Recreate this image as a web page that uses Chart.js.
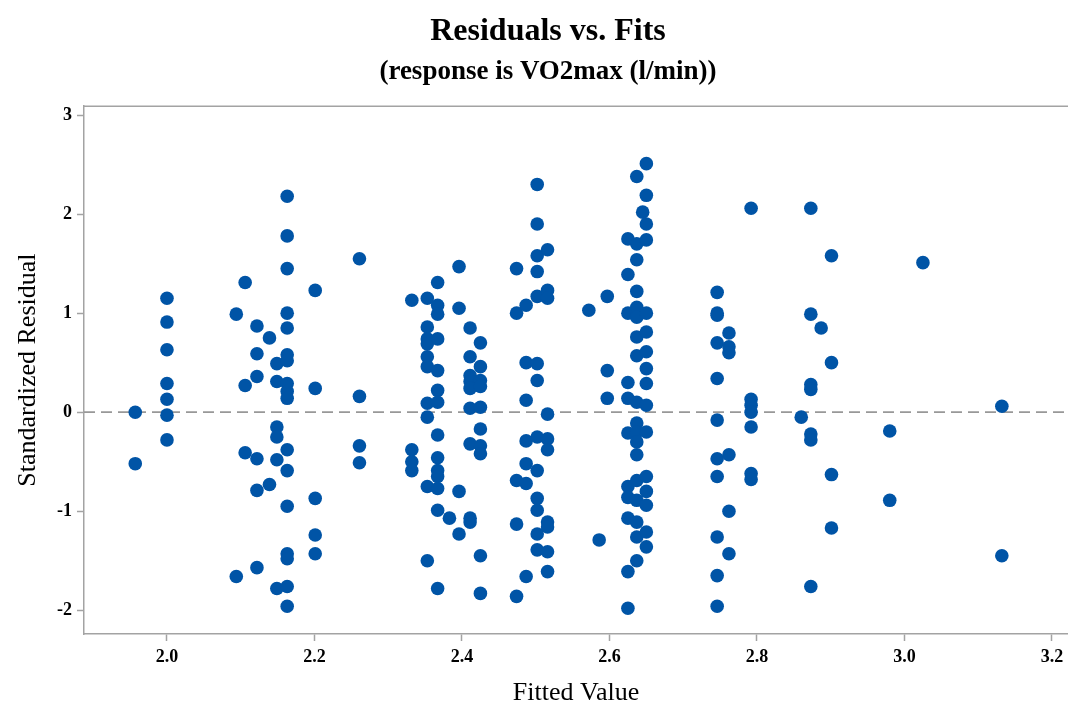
<!DOCTYPE html>
<html>
<head>
<meta charset="utf-8">
<title>Residuals vs. Fits</title>
<script src="https://cdn.jsdelivr.net/npm/chart.js@4.4.1/dist/chart.umd.min.js"></script>
<style>
  html, body { margin: 0; padding: 0; background: #ffffff; overflow: hidden; }
  #wrap { width: 1068px; height: 709px; position: relative; }
</style>
</head>
<body>
<div id="wrap"><canvas id="chart"></canvas></div>
<script>
// Fitted values (one entry per vertical group of observations)
const fitLevels = [
  1.957, 2.000, 2.094, 2.106, 2.122, 2.139, 2.149, 2.163, 2.201, 2.261,
  2.332, 2.353, 2.367, 2.383, 2.396, 2.411, 2.425, 2.474, 2.487, 2.502,
  2.516, 2.572, 2.586, 2.597, 2.625, 2.637, 2.645, 2.650, 2.746, 2.762,
  2.792, 2.860, 2.873, 2.887, 2.901, 2.980, 3.025, 3.132
];

// Standardized residuals observed at each fitted value above
const residualGroups = [
  [0.00, -0.52],
  [1.15, 0.91, 0.63, 0.29, 0.13, -0.03, -0.28],
  [0.99, -1.66],
  [1.31, 0.27, -0.41],
  [0.87, 0.59, 0.36, -0.47, -0.79, -1.57],
  [0.75, -0.73],
  [0.49, 0.31, -0.15, -0.25, -0.48, -1.78],
  [2.18, 1.78, 1.45, 1.00, 0.85, 0.58, 0.52, 0.29, 0.21, 0.14, -0.38, -0.59, -0.95, -1.43, -1.48, -1.76, -1.96],
  [1.23, 0.24, -0.87, -1.24, -1.43],
  [1.55, 0.16, -0.34, -0.51],
  [1.13, -0.38, -0.50, -0.59],
  [1.15, 0.86, 0.74, 0.69, 0.56, 0.46, 0.09, -0.05, -0.75, -1.50],
  [1.31, 1.08, 0.99, 0.74, 0.42, 0.22, 0.10, -0.23, -0.46, -0.59, -0.65, -0.77, -0.99, -1.78],
  [-1.07],
  [1.47, 1.05, -0.80, -1.23],
  [0.85, 0.56, 0.37, 0.31, 0.24, 0.04, -0.32, -1.07, -1.11],
  [0.70, 0.46, 0.32, 0.26, 0.05, -0.17, -0.34, -0.42, -1.45, -1.83],
  [1.45, 1.00, -0.69, -1.13, -1.86],
  [1.08, 0.50, 0.12, -0.29, -0.52, -0.72, -1.66],
  [2.30, 1.90, 1.58, 1.42, 1.17, 0.49, 0.32, -0.25, -0.59, -0.87, -0.99, -1.23, -1.39],
  [1.64, 1.23, 1.15, -0.02, -0.27, -0.38, -1.11, -1.16, -1.41, -1.61],
  [1.03],
  [-1.29],
  [1.17, 0.42, 0.14],
  [1.75, 1.39, 1.00, 0.30, 0.14, -0.21, -0.75, -0.86, -1.07, -1.61, -1.98],
  [2.38, 1.70, 1.54, 1.22, 1.06, 0.96, 0.76, 0.57, 0.10, -0.11, -0.20, -0.30, -0.43, -0.69, -0.89, -1.11, -1.26, -1.50],
  [2.02],
  [2.51, 2.19, 1.90, 1.74, 1.00, 0.81, 0.61, 0.44, 0.29, 0.07, -0.20, -0.65, -0.80, -0.94, -1.21, -1.36],
  [1.21, 1.00, 0.98, 0.70, 0.34, -0.08, -0.47, -0.65, -1.26, -1.65, -1.96],
  [0.80, 0.66, 0.60, -0.43, -1.00, -1.43],
  [2.06, 0.13, 0.07, 0.00, -0.15, -0.62, -0.68],
  [-0.05],
  [2.06, 0.99, 0.28, 0.23, -0.22, -0.28, -1.76],
  [0.85],
  [1.58, 0.50, -0.63, -1.17],
  [-0.19, -0.89],
  [1.51],
  [0.06, -1.45]
];

// Axis tick labels and ranges
const xTickValues = [2.0, 2.2, 2.4, 2.6, 2.8, 3.0, 3.2];
const yTickValues = [-2, -1, 0, 1, 2, 3];
const xRange = [1.8875, 3.2217];
const yRange = [-2.24, 3.09];
const referenceResidual = 0;

const points = [];
fitLevels.forEach((fit, i) => {
  residualGroups[i].forEach(r => points.push({ x: fit, y: r }));
});

const SERIF = '"Liberation Serif", "Times New Roman", Times, serif';
const AXIS_GRAY = '#a3a3a3';
const DOT_BLUE = '#0054a6';

// Top edge of the plotting frame
const frameTop = {
  id: 'frameTop',
  beforeDatasetsDraw(chart) {
    const { ctx, chartArea } = chart;
    ctx.save();
    ctx.strokeStyle = AXIS_GRAY;
    ctx.lineWidth = 1.5;
    ctx.beginPath();
    ctx.moveTo(chartArea.left, chartArea.top);
    ctx.lineTo(chartArea.right, chartArea.top);
    ctx.stroke();
    ctx.restore();
  }
};

new Chart(document.getElementById('chart'), {
  type: 'scatter',
  data: {
    datasets: [
      {
        label: 'Standardized Residual',
        data: points,
        pointRadius: 6.8,
        pointBorderWidth: 0,
        pointBackgroundColor: DOT_BLUE,
        pointBorderColor: DOT_BLUE,
        order: 1
      },
      {
        type: 'line',
        label: 'Reference',
        data: [{ x: xRange[0], y: referenceResidual }, { x: xRange[1], y: referenceResidual }],
        borderColor: '#989898',
        borderWidth: 1.8,
        borderDash: [11, 6],
        pointRadius: 0,
        fill: false,
        order: 2
      }
    ]
  },
  options: {
    responsive: true,
    maintainAspectRatio: false,
    animation: false,
    events: [],
    layout: { autoPadding: false, padding: { left: 28, right: 0, top: 0, bottom: 0 } },
    plugins: {
      legend: { display: false },
      tooltip: { enabled: false },
      title: {
        display: true,
        text: 'Residuals vs. Fits',
        color: '#000000',
        font: { family: SERIF, size: 32, weight: 'bold', lineHeight: 1.2 },
        padding: { top: 12.5, bottom: 5 }
      },
      subtitle: {
        display: true,
        text: '(response is VO2max (l/min))',
        color: '#000000',
        font: { family: SERIF, size: 27, weight: 'bold', lineHeight: 1.2 },
        padding: { top: 0, bottom: 17.9 }
      }
    },
    scales: {
      x: {
        type: 'linear',
        min: xRange[0],
        max: xRange[1],
        afterBuildTicks: s => { s.ticks = xTickValues.map(v => ({ value: v })); },
        afterFit: s => { s.height = 75; s.paddingLeft = 0; s.paddingRight = 0; },
        ticks: {
          color: '#000000',
          font: { family: SERIF, size: 18, weight: 'bold' },
          padding: 6,
          maxRotation: 0,
          callback: v => v.toFixed(1)
        },
        grid: {
          drawOnChartArea: false,
          drawTicks: true,
          tickLength: 7,
          tickColor: AXIS_GRAY,
          tickWidth: 1.5
        },
        border: { display: true, color: AXIS_GRAY, width: 1.5 },
        title: {
          display: true,
          text: 'Fitted Value',
          color: '#000000',
          font: { family: SERIF, size: 26, lineHeight: 1.2 },
          padding: { top: 0, bottom: 0 }
        }
      },
      y: {
        type: 'linear',
        min: yRange[0],
        max: yRange[1],
        afterBuildTicks: s => { s.ticks = yTickValues.map(v => ({ value: v })); },
        afterFit: s => { s.width = 56; s.paddingTop = 0; s.paddingBottom = 0; },
        ticks: {
          color: '#000000',
          font: { family: SERIF, size: 18, weight: 'bold' },
          padding: 5,
          callback: v => String(v)
        },
        grid: {
          drawOnChartArea: false,
          drawTicks: true,
          tickLength: 7,
          tickColor: AXIS_GRAY,
          tickWidth: 1.5
        },
        border: { display: true, color: AXIS_GRAY, width: 1.5 },
        title: {
          display: true,
          text: 'Standardized Residual',
          color: '#000000',
          font: { family: SERIF, size: 26, lineHeight: 1.2 },
          padding: { top: -15, bottom: 0 }
        }
      }
    }
  },
  plugins: [frameTop]
});
</script>
</body>
</html>
